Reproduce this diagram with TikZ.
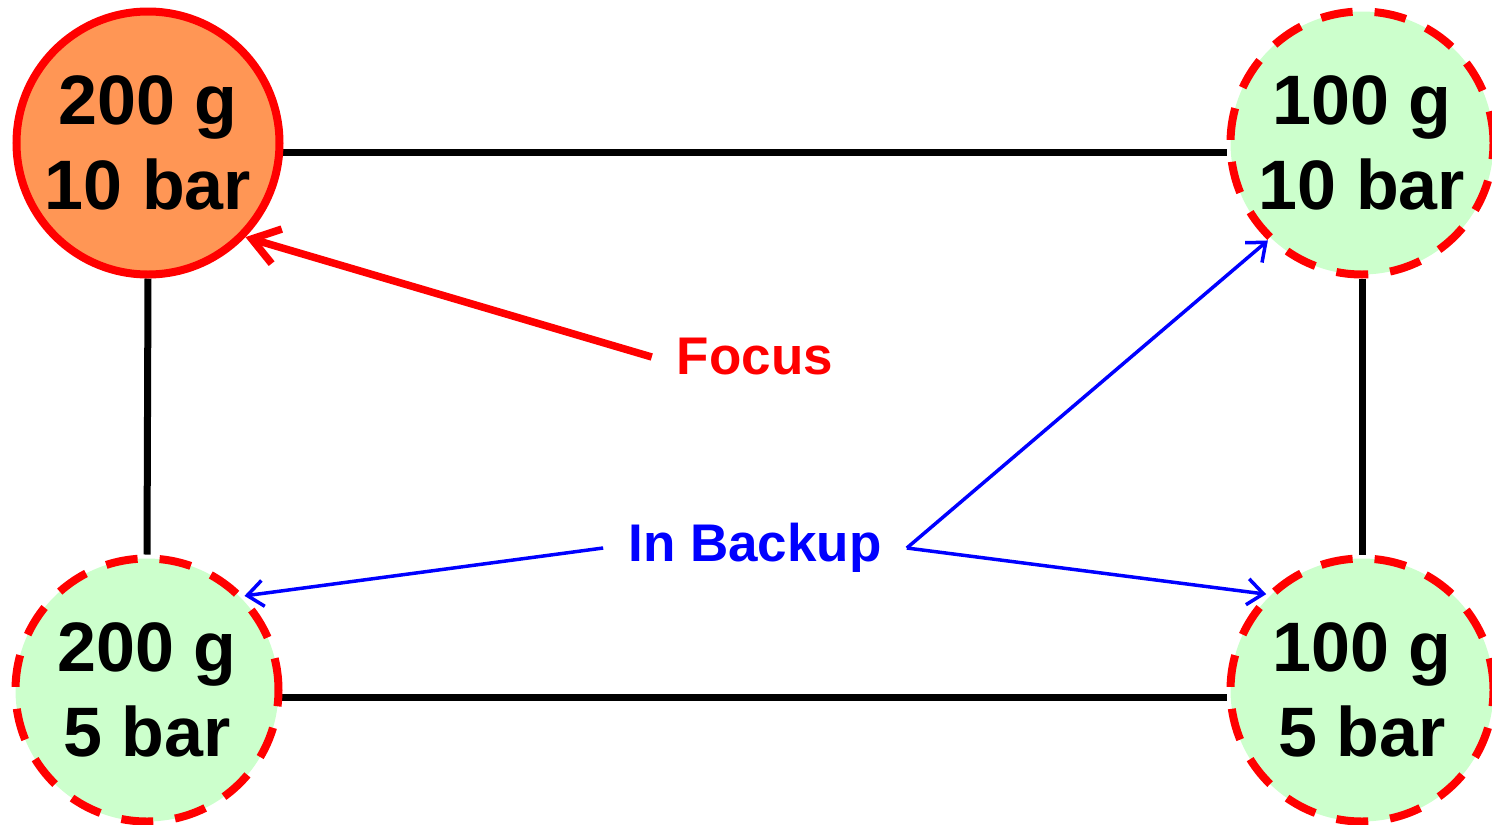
\documentclass[tikz,border=0pt]{standalone}
\usepackage{fontspec}
\setmainfont{Liberation Sans}
\usetikzlibrary{arrows.meta,backgrounds}
\definecolor{orangefill}{RGB}{255,150,85}
\definecolor{greenfill}{RGB}{204,255,204}
\begin{document}
\begin{tikzpicture}[x=1pt,y=-1pt,
  state/.style={circle,inner sep=0pt,minimum size=263pt,line width=8pt,draw=red,
    align=center,font=\fontsize{70}{85}\selectfont\bfseries},
  focusstate/.style={state,fill=orangefill},
  backupstate/.style={state,fill=greenfill,dash pattern=on 32pt off 22pt},
  edge/.style={line width=7pt,draw=black},
  lbl/.style={font=\fontsize{53}{60}\selectfont\bfseries,inner xsep=25pt,inner ysep=0pt},
  focusarrow/.style={draw=red,line width=7.5pt,-{Straight Barb[length=26pt,width=36pt]}},
  backuparrow/.style={draw=blue,line width=3.5pt,-{Straight Barb[length=16pt,width=26pt]}}]
\useasboundingbox (0,0) rectangle (1492,825);
\node[focusstate] (tl) at (148,143) {200 g\\10 bar};
\node[backupstate] (tr) at (1362,143) {100 g\\10 bar};
\node[backupstate] (bl) at (147,690) {200 g\\5 bar};
\node[backupstate] (br) at (1362,690) {100 g\\5 bar};
\begin{scope}[on background layer]
\draw[edge] (tl.-4) -- (tr.184);
\draw[edge] (bl.-3) -- (br.183);
\draw[edge] (tl.south) -- (bl.north);
\draw[edge] (tr.south) -- (br.north);
\end{scope}
\node[lbl,text=red] (focus) at (755,357) {Focus};
\node[lbl,text=blue] (backup) at (755,548) {In Backup};
\draw[focusarrow] (focus.west) -- (tl.-44);
\draw[backuparrow] (backup.west) -- (bl.44);
\draw[backuparrow] (backup.east) -- (tr.-134);
\draw[backuparrow] (backup.east) -- (br.135);
\end{tikzpicture}
\end{document}
